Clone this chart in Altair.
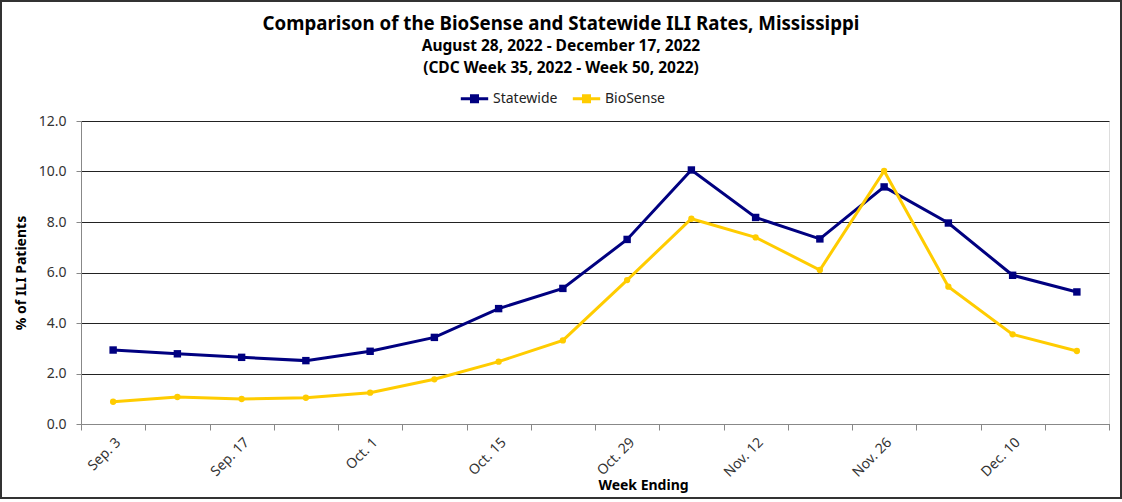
import altair as alt
import pandas as pd

weeks = ["Sep. 3", "Sep. 10", "Sep. 17", "Sep. 24", "Oct. 1", "Oct. 8", "Oct. 15", "Oct. 22",
         "Oct. 29", "Nov. 5", "Nov. 12", "Nov. 19", "Nov. 26", "Dec. 3", "Dec. 10", "Dec. 17"]
statewide = [2.93, 2.78, 2.64, 2.51, 2.88, 3.43, 4.57, 5.37, 7.31, 10.06, 8.18, 7.33, 9.39, 7.96, 5.89, 5.23]
biosense = [0.88, 1.07, 0.99, 1.04, 1.24, 1.77, 2.47, 3.31, 5.70, 8.13, 7.39, 6.10, 10.02, 5.44, 3.55, 2.89]
series = ["Statewide", "BioSense"]
colors = ["#000080", "#FFCC00"]
shown_labels = weeks[::2]

rows = []
for w, v in zip(weeks, statewide):
    rows.append({"week": w, "value": v, "series": "Statewide", "marker": "Statewide"})
for w, v in zip(weeks, biosense):
    rows.append({"week": w, "value": v, "series": "BioSense", "marker": "BioSense"})
df = pd.DataFrame(rows)

FONT = "Noto Sans"

x_enc = alt.X(
    "week:N", sort=weeks, bandPosition=0.5,
    scale=alt.Scale(type="band", paddingInner=0, paddingOuter=0),
    axis=alt.Axis(
        title="Week Ending", titleFont=FONT, titleFontSize=14, titleFontWeight="bold",
        titleColor="#000", titleX=562, titleY=54,
        labelExpr="indexof(" + str(shown_labels) + ", datum.value) >= 0 ? datum.value : ''",
        labelAngle=-45, labelFont=FONT, labelFontSize=14, labelColor="#333",
        labelPadding=5, tickBand="extent", tickColor="#888", tickSize=6,
        domainColor="#888", grid=False,
    ),
)
y_enc = alt.Y(
    "value:Q",
    scale=alt.Scale(domain=[0, 12], nice=False),
    axis=alt.Axis(
        title="% of ILI Patients", titleFont=FONT, titleFontSize=14, titleFontWeight="bold",
        titleColor="#000", titlePadding=10,
        values=[0, 2, 4, 6, 8, 10, 12], format=".1f",
        labelFont=FONT, labelFontSize=14, labelColor="#333", labelPadding=10,
        tickColor="#888", tickSize=5, domainColor="#888",
        grid=True, gridColor="#222", gridWidth=1,
    ),
)
stroke_enc = alt.Stroke(
    "series:N",
    scale=alt.Scale(domain=series, range=colors),
    legend=alt.Legend(
        title=None, orient="none", direction="horizontal", legendX=378, legendY=-38,
        labelFont=FONT, labelFontSize=14, labelColor="#222",
        symbolType="M-1,0H1M-0.22,-0.22H0.22V0.22H-0.22Z", symbolSize=750,
        symbolStrokeWidth=3, columnPadding=8, labelOffset=3,
    ),
)
# marker scales use the reversed order so they are never merged into the line legend
m_domain = series[::-1]
fill_enc = alt.Fill("marker:N", scale=alt.Scale(domain=m_domain, range=colors[::-1]), legend=None)

lines = alt.Chart(df).mark_line(strokeWidth=3).encode(
    x=x_enc, y=y_enc, stroke=stroke_enc, order=alt.Order("series:N")
)
points = alt.Chart(df).mark_point(filled=True, opacity=1, strokeWidth=0).encode(
    x=x_enc, y=y_enc, fill=fill_enc,
    shape=alt.Shape("marker:N", scale=alt.Scale(domain=m_domain, range=["circle", "square"]), legend=None),
    size=alt.Size("marker:N", scale=alt.Scale(domain=m_domain, range=[40, 55]), legend=None),
)
frame = alt.Chart(df).mark_rect(fill=None, stroke="#333", strokeWidth=1.5).encode(
    x=alt.value(-80), x2=alt.value(1040), y=alt.value(-120), y2=alt.value(377)
)

chart = alt.layer(lines, points, frame).properties(
    width=1028, height=303,
    title=alt.TitleParams(
        text="Comparison of the BioSense and Statewide ILI Rates, Mississippi",
        subtitle=["August 28, 2022 - December 17, 2022", "(CDC Week 35, 2022 - Week 50, 2022)"],
        anchor="middle", dx=-34, offset=-76,
        font=FONT, fontSize=18.7, fontWeight="bold", color="#000",
        subtitleFont=FONT, subtitleFontSize=15.5, subtitleFontWeight="bold", subtitleColor="#000",
        subtitlePadding=5, subtitleLineHeight=22,
    ),
    padding={"left": 81, "top": 121, "right": 13, "bottom": 78},
    autosize=alt.AutoSizeParams(type="none"),
).configure_view(stroke="#333", strokeWidth=1).configure(background="white")

chart.save("out.html", embed_options={"renderer": "svg", "actions": False})
